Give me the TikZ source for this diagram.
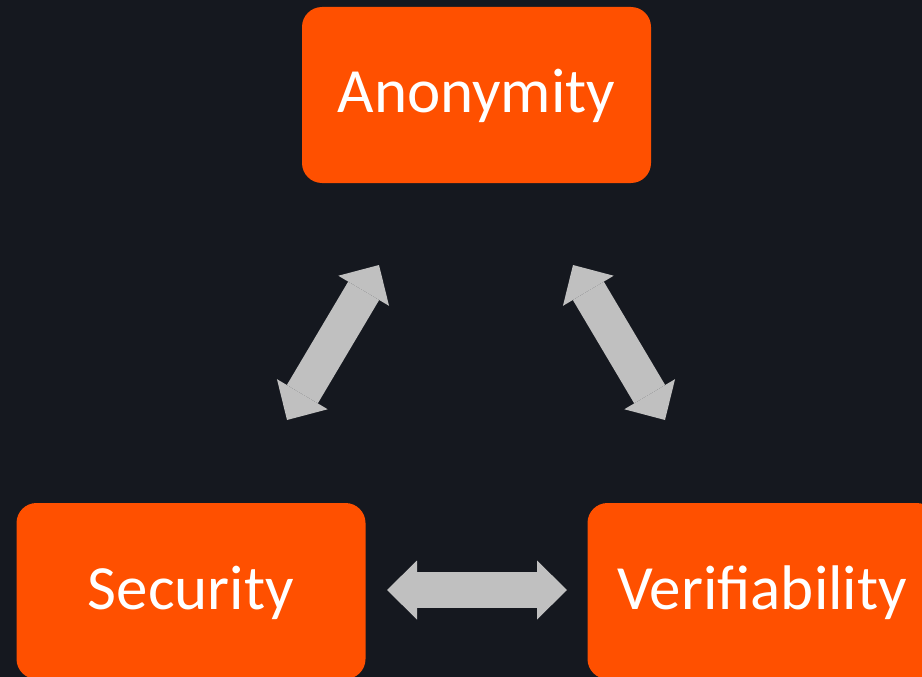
\documentclass[tikz,border=0pt]{standalone}
\usepackage{fontspec}
\setmainfont{Carlito}
\usetikzlibrary{arrows.meta}
\definecolor{bgdark}{HTML}{15181F}
\definecolor{boxorange}{HTML}{FF5000}
\definecolor{arrowgray}{HTML}{C0C0C0}
\begin{document}
\begin{tikzpicture}[x=1pt, y=-1pt,
    box/.style={fill=boxorange, rounded corners=20pt, minimum width=349pt, minimum height=176pt,
      inner sep=0pt, text height=46pt, text depth=10pt, text=white, font=\fontsize{63}{70}\selectfont},
    bigtip/.tip={Triangle[length=30pt, width=59pt, line width=0pt]},
    link/.style={arrowgray, line width=36pt, bigtip-bigtip}]
    \useasboundingbox (0,0) rectangle (922,677);
    \fill[bgdark] (0,0) rectangle (922,677);
    \node[box] (anon) at (476.5,95) {Anonymity};
    \node[box] (secu) at (191,591) {Security};
    \node[box] (veri) at (762,591) {Verifiability};
    \coordinate (l1) at (287,420);
    \coordinate (l2) at (379,265);
    \coordinate (r1) at (573,265);
    \coordinate (r2) at (665,420);
    \coordinate (b1) at (387,590);
    \coordinate (b2) at (567,590);
    \draw[link] (l1) -- (l2);
    \draw[link] (r1) -- (r2);
    \draw[link] (b1) -- (b2);
\end{tikzpicture}
\end{document}
